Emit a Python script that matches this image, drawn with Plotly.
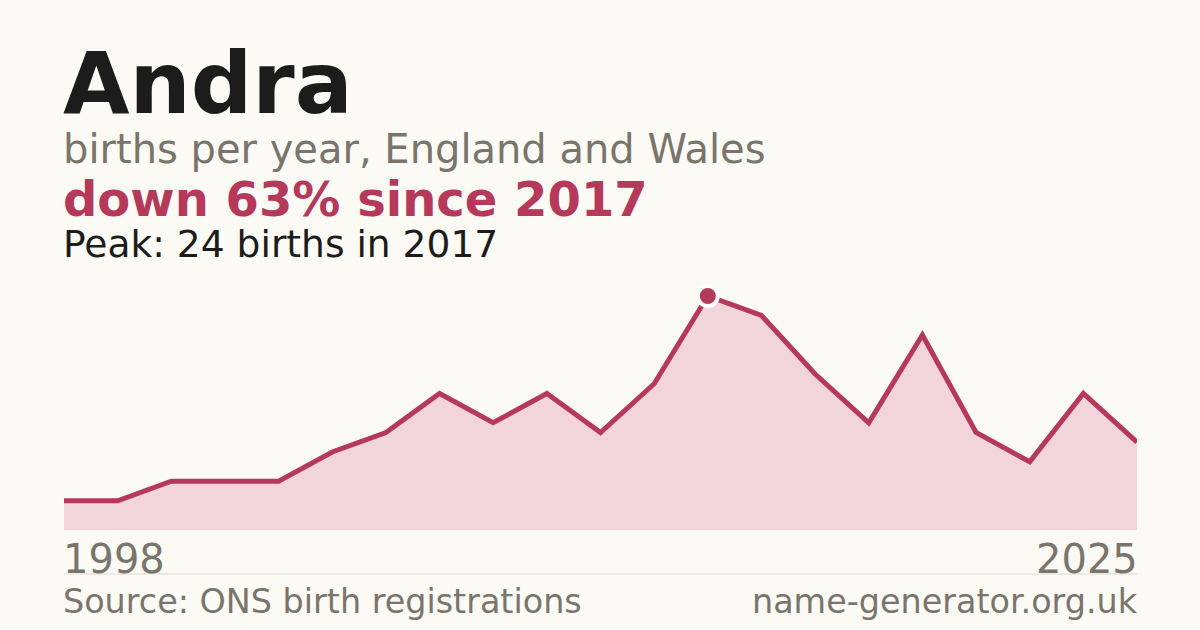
import plotly.graph_objects as go

years = ["1998", "1999", "2001", "2002", "2003", "2005", "2007", "2008", "2010", "2012",
         "2014", "2016", "2017", "2018", "2019", "2020", "2021", "2022", "2023", "2024", "2025"]
births = [3, 3, 5, 5, 5, 8, 10, 14, 11, 14, 10, 15, 24, 22, 16, 11, 20, 10, 7, 14, 9]

peak_i = births.index(max(births))
change = int(abs(births[-1] - births[peak_i]) / births[peak_i] * 100 + 0.5)

RED = "#b5395a"
FILL = "#f2d5db"
BG = "#fbfaf5"
GREY = "#7a756c"
INK = "#1c1c1c"
FONT = "DejaVu Sans"

# plot area in pixels
L, R, T, B = 64, 1137, 280, 530


def py(y):
    return (B - y) / (B - T)


fig = go.Figure()
fig.add_trace(go.Scatter(
    x=years, y=births, mode="lines",
    line=dict(color=RED, width=5),
    fill="tozeroy", fillcolor=FILL,
    hoverinfo="skip"))
fig.add_trace(go.Scatter(
    x=[years[peak_i]], y=[births[peak_i]], mode="markers",
    marker=dict(color=RED, size=20, line=dict(color="white", width=4)),
    hoverinfo="skip"))

ann = [
    dict(text="<b>Andra</b>", x=0, y=py(83), font=dict(size=86, color=INK)),
    dict(text="births per year, England and Wales", x=0, y=py(148.6), font=dict(size=40, color=GREY)),
    dict(text=f"<b>down {change}% since {years[peak_i]}</b>", x=0, y=py(198.5), font=dict(size=48, color=RED)),
    dict(text=f"Peak: {births[peak_i]} births in {years[peak_i]}", x=0, y=py(244.4), font=dict(size=37.6, color=INK)),
    dict(text=years[0], x=0, y=py(559), font=dict(size=40, color=GREY)),
    dict(text=years[-1], x=1, y=py(559), xanchor="right", font=dict(size=40, color=GREY)),
    dict(text="Source: ONS birth registrations", x=0, y=py(601), font=dict(size=33.4, color=GREY)),
    dict(text="name-generator.org.uk", x=1, y=py(601), xanchor="right", font=dict(size=33.4, color=GREY)),
]
for a in ann:
    a.setdefault("xanchor", "left")
    shift = -3 if a["xanchor"] == "left" else 3
    fig.add_annotation(xref="paper", yref="paper", yanchor="middle", showarrow=False,
                       xshift=shift, **a)

fig.add_shape(type="line", xref="paper", yref="paper", x0=0, x1=1, y0=py(574), y1=py(574),
              line=dict(color="#dcd9d1", width=1))

ymax = births[peak_i] * (B - T) / (B - 296)
fig.update_layout(
    width=1200, height=630,
    margin=dict(l=L, r=1200 - R, t=T, b=630 - B, pad=0),
    paper_bgcolor=BG, plot_bgcolor=BG,
    font=dict(family=FONT),
    showlegend=False,
    xaxis=dict(visible=False, range=[0, len(years) - 1]),
    yaxis=dict(visible=False, range=[0, ymax]),
)

fig.write_html("out.html", config={"displayModeBar": False},
               post_script="document.body.style.margin='0';")
